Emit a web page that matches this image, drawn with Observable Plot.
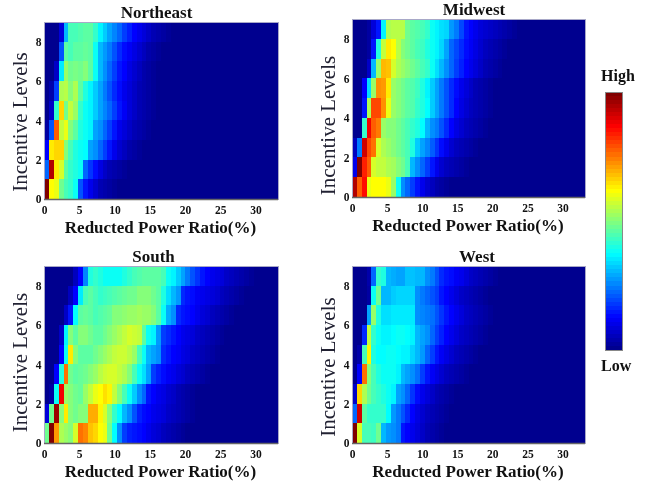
<!DOCTYPE html>
<html><head><meta charset="utf-8">
<script src="https://cdn.jsdelivr.net/npm/d3@7"></script>
<script src="https://cdn.jsdelivr.net/npm/@observablehq/plot@0.6"></script>
<style>
html,body{margin:0;padding:0;background:#fff}
#root{position:relative;width:651px;height:487px;overflow:hidden;filter:blur(0.7px)}
#root svg{position:absolute;background:none;max-width:none;overflow:visible}
.lab{position:absolute;font:bold 16px "Liberation Serif",serif;color:#111}
</style></head><body><div id="root"></div>
<script>
// Cell values on a 0..100 scale. Rows listed top (level 8) to bottom (level 0); unlisted bins are 0.
const northeast = [
 [0,0,0,8,30,44,44,45,46,46,42,36,32,28,25,22,18,15,12,10,8,6,4,3,2,1],
 [0,0,0,20,46,44,46,46,47,46,38,30,27,24,20,16,13,11,9,7,5,3,2,1],
 [0,0,6,35,52,48,49,48,50,46,38,30,26,22,18,14,12,9,7,5,3,2,1],
 [0,3,18,54,55,50,54,46,40,36,32,28,24,20,16,13,10,8,6,4,3,2,1],
 [0,6,42,66,48,56,52,42,38,36,32,28,25,22,18,14,11,8,6,4,3,2,1],
 [2,20,78,56,60,50,46,40,38,36,28,26,22,18,14,10,8,6,4,3,2,1],
 [12,64,66,66,50,44,40,38,37,28,26,22,18,14,10,7,5,3,2,1],
 [22,95,64,58,46,42,40,38,22,17,13,9,6,4,3,2,1],
 [100,62,60,48,44,42,38,20,14,10,7,4,3,2,1]
];
const midwest = [
 [0,0,0,2,8,14,36,54,55,55,55,48,46,45,44,42,38,36,34,33,27,24,19,14,12,10,8,7,6,5,4,3,2,1],
 [0,0,0,2,14,40,56,64,62,55,50,48,46,44,43,40,38,36,33,28,22,19,16,13,11,9,7,5,4,3,2,1],
 [0,0,0,6,30,52,69,68,58,54,52,50,48,46,44,42,38,34,30,26,22,18,15,12,10,8,6,4,3,2,1],
 [0,0,12,34,52,73,72,64,52,50,48,46,45,43,40,36,32,28,24,20,16,13,10,8,6,4,3,2,1],
 [0,0,14,54,80,80,73,60,52,50,48,46,45,42,40,37,32,28,24,20,16,12,9,7,5,4,3,2,1],
 [0,0,42,88,78,75,52,50,50,48,46,44,42,40,37,30,26,24,20,16,12,9,7,5,4,3,2,1],
 [5,24,92,80,76,58,54,52,50,48,46,44,40,32,28,25,21,17,13,10,7,5,4,3,2,1],
 [10,100,84,78,58,56,56,54,53,50,48,44,30,26,22,18,14,10,7,5,4,3,2,1],
 [95,78,86,60,62,62,62,60,52,38,26,22,18,14,10,7,5,3,2,1]
];
const south = [
 [0,0,0,0,0,0,5,12,25,40,42,40,38,38,38,38,40,42,44,45,46,46,46,46,44,38,36,32,28,24,20,17,14,12,10,9,8,6,5,4,3,2,1],
 [0,0,0,0,0,5,12,35,44,46,44,42,43,44,45,46,47,48,48,50,50,50,48,46,40,34,30,27,16,14,13,11,10,9,8,7,5,4,3,2,1],
 [0,0,0,0,6,14,37,46,47,46,44,45,46,47,50,50,51,52,52,53,52,52,50,46,38,29,26,16,14,13,12,10,8,7,5,4,3,2,1],
 [0,0,0,6,36,50,46,50,50,48,46,46,48,50,52,54,56,58,57,56,46,38,36,27,18,16,14,12,10,9,8,6,5,4,3,2,1],
 [0,0,0,12,38,64,50,46,46,46,48,50,52,54,56,57,57,55,52,44,38,30,28,26,16,14,12,11,9,8,6,5,4,3,2,1],
 [0,0,12,40,76,48,46,47,48,50,52,55,57,58,58,56,54,50,44,38,34,28,18,15,13,11,10,8,7,5,4,3,2,1],
 [0,2,38,88,52,50,48,47,52,56,60,62,65,63,56,50,44,38,32,26,22,14,12,10,9,7,6,4,3,2,1],
 [8,48,97,50,64,50,48,50,50,70,70,63,58,50,42,37,30,26,20,15,13,12,10,9,8,6,5,4,3,2,1],
 [48,100,72,54,52,50,58,76,74,68,66,62,60,48,37,26,18,15,14,13,12,10,8,7,5,4,3,2,1]
];
const west = [
 [0,0,0,3,22,42,40,30,29,28,28,31,31,30,30,26,24,20,16,14,13,11,10,8,6,5,4,3,2,1],
 [0,0,0,2,38,48,30,30,32,33,33,33,33,26,24,22,20,18,14,12,10,8,6,5,4,3,2,1],
 [0,0,0,28,52,40,34,34,35,35,35,35,35,26,25,24,23,20,17,14,12,10,8,6,5,4,3,2,1],
 [0,0,16,56,42,38,36,36,37,38,38,37,36,30,28,26,22,18,15,12,10,8,6,5,4,3,2,1],
 [0,3,44,63,40,37,37,38,38,37,36,36,33,30,27,22,18,14,11,9,7,5,4,3,2,1],
 [0,12,76,50,44,40,38,38,38,36,30,28,26,23,18,14,11,9,7,5,4,3,2,1],
 [6,66,54,48,44,42,40,38,36,28,26,22,17,13,10,8,6,4,3,2,1],
 [22,92,46,42,42,42,42,37,27,24,20,16,12,9,7,5,4,3,2,1],
 [100,58,44,44,43,48,30,27,26,24,14,12,10,8,6,4,3,2,1]
];
const binCount = 48;
const xMax = 33.2;
const xTicks = [0,5,10,15,20,25,30];
const yTicks = [0,2,4,6,8];
const jetStops = [0,12,37,62,87,100];
const jetColors = ["#00008f","#0000ff","#00ffff","#ffff00","#ff0000","#800000"];
const color = {type:"linear",domain:jetStops,range:jetColors};
const serif = '"Liberation Serif",serif';
const root = document.getElementById("root");

function panel(name, rows, left, right, top, bottom, titleDx, labelDy){
  const binW = xMax/binCount;
  const cells = rows.flatMap((row,r)=>Array.from({length:binCount},(_,i)=>({
    x1:i*binW,x2:(i+1)*binW,y1:8-r,y2:9-r,v:row[i]??0})));
  const ox = left-44, oy = top-22;
  const svg = Plot.plot({
    width:right-left+44+22, height:bottom-top+22+44,
    marginLeft:44, marginRight:22, marginTop:22, marginBottom:44,
    style:{fontFamily:serif,background:"transparent",color:"#111"},
    x:{domain:[0,xMax]}, y:{domain:[0,9]}, color,
    marks:[
      Plot.rect(cells,{x1:"x1",x2:"x2",y1:"y1",y2:"y2",fill:"v",shapeRendering:"crispEdges"}),
      Plot.frame({stroke:"#a8a8c8",strokeWidth:1}),
      Plot.ruleY([0],{stroke:"#666",strokeWidth:1.5}),
      Plot.axisX({ticks:xTicks,tickSize:0,tickPadding:6,label:null,fontSize:11.5,fontWeight:"bold",stroke:"none"}),
      Plot.axisY({ticks:yTicks,tickSize:0,tickPadding:3,label:null,fontSize:11.5,fontWeight:"bold",stroke:"none"}),
      Plot.text([name],{frameAnchor:"top",dx:titleDx,dy:-10,fontSize:17,fontWeight:"bold",lineAnchor:"middle",fill:"#111"}),
      Plot.text(["Reducted Power Ratio(%)"],{frameAnchor:"bottom",dx:-1,dy:28,lineAnchor:"middle",fontSize:17,fontWeight:"bold",fill:"#111"}),
      Plot.text(["Incentive Levels"],{frameAnchor:"left",textAnchor:"middle",dx:-24,dy:labelDy,rotate:-90,fontSize:21,fill:"#223"})
    ]
  });
  svg.style.left = ox+"px"; svg.style.top = oy+"px";
  root.appendChild(svg);
}
panel("Northeast",northeast,44,278,22,199,-5,11);
panel("Midwest",midwest,352,585,19,197,5,17);
panel("South",south,44,278,266,443,-8,7.5);
panel("West",west,352,585,266,443,8,12);

const levels = d3.range(64).map(d=>d*100/63);
const bar = Plot.plot({
  width:17,height:258,margin:0,
  x:{domain:[0,1],axis:null},y:{domain:[0,64],axis:null},color,
  style:{background:"transparent"},
  marks:[
    Plot.rect(levels,{x1:0,x2:1,y1:(d,i)=>i,y2:(d,i)=>i+1,fill:d=>d,shapeRendering:"crispEdges"}),
    Plot.frame({stroke:"#888"})
  ]
});
bar.style.left="605px";bar.style.top="92px";
root.appendChild(bar);
for(const [t,x,y] of [["High",601,67],["Low",601,357]]){
  const d=document.createElement("div");d.className="lab";d.textContent=t;
  d.style.left=x+"px";d.style.top=y+"px";root.appendChild(d);
}
</script></body></html>
